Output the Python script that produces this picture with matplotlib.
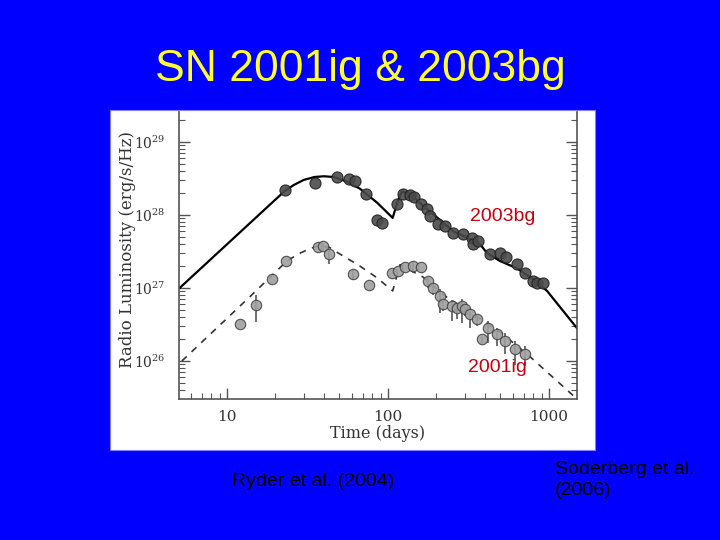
import numpy as np
import matplotlib
matplotlib.use("Agg")
import matplotlib.pyplot as plt
from matplotlib.patches import Rectangle
from matplotlib.ticker import LogLocator, FixedLocator, FuncFormatter, NullFormatter

plt.rcParams['mathtext.fontset'] = 'dejavuserif'

# SN 2003bg: days, log10 luminosity (erg/s/Hz)
bg_days = [22.9, 35.2, 48.2, 57.3, 62.4, 73.0, 85.5, 91.8, 113.7, 124, 137, 145,
           160, 175, 182, 205, 226, 253, 292, 332, 337, 362, 430, 496, 541,
           632, 710, 796, 842, 918]
bg_logL = [28.34, 28.44, 28.52, 28.49, 28.47, 28.29, 27.93, 27.89, 28.15, 28.29, 28.27, 28.25,
           28.15, 28.08, 27.99, 27.88, 27.85, 27.75, 27.74, 27.68, 27.60, 27.64, 27.47, 27.48, 27.42,
           27.33, 27.21, 27.10, 27.07, 27.07]

# SN 2001ig: days, log10 luminosity, error bars (dex, down / up)
ig_days = [12.0, 15.1, 19.0, 23.2, 36.7, 39.5, 43.0, 60.7, 76.2, 106, 115, 128, 143,
           160, 177, 190, 210, 220, 250, 269, 288, 301, 323, 357, 384, 418, 475,
           533, 615, 710]
ig_logL = [26.51, 26.77, 27.12, 27.37, 27.56, 27.58, 27.47, 27.19, 27.04, 27.21, 27.23, 27.29, 27.30,
           27.29, 27.10, 27.00, 26.89, 26.78, 26.75, 26.73, 26.75, 26.71, 26.64, 26.58, 26.30, 26.45, 26.37,
           26.27, 26.16, 26.10]
ig_err_lo = [0, 0.23, 0, 0, 0, 0, 0.14, 0.08, 0, 0, 0, 0, 0.1,
             0, 0.1, 0.1, 0.23, 0.1, 0.2, 0.15, 0.23, 0.1, 0.19, 0.1, 0.05, 0.2, 0.16,
             0.18, 0.21, 0.17]
ig_err_hi = [0, 0.14, 0, 0, 0, 0, 0.05, 0.05, 0, 0, 0, 0, 0.05,
             0, 0.05, 0.05, 0.1, 0.05, 0.08, 0.05, 0.1, 0.05, 0.08, 0.05, 0.03, 0.1, 0.08,
             0.11, 0.11, 0.11]

# model curves
bg_model_days = [5.03, 22.9, 26, 30, 35, 40, 46, 55, 67.0, 85.5, 107, 115, 122, 137,
                 158, 182, 253, 323, 373, 412, 496, 632, 796, 973, 1493]
bg_model_logL = [26.99, 28.33, 28.41, 28.48, 28.52, 28.53, 28.52, 28.46, 28.36, 28.17, 27.96, 28.19,
                 28.32, 28.29, 28.16, 28.05, 27.78, 27.67, 27.60, 27.48, 27.37, 27.27, 27.12, 26.96, 26.45]
ig_model_days = [5.25, 14.5, 23.6, 28, 32.8, 37.8, 43, 48.2, 67.0, 85.5, 107, 119, 165, 226, 323,
                 496, 762, 1493]
ig_model_logL = [26.00, 26.92, 27.37, 27.47, 27.54, 27.58, 27.56, 27.49, 27.30, 27.14, 26.96, 27.32,
                 27.15, 26.89, 26.67, 26.40, 26.06, 25.48]

fig = plt.figure(figsize=(7.2, 5.4), dpi=100, facecolor='#0000ff')
W, H = 720.0, 540.0
fig.patches.append(Rectangle((110 / W, 1 - 450 / H), 485 / W, 340 / H, transform=fig.transFigure,
                             facecolor='white', edgecolor='#8080ff', lw=0.8, zorder=-10))

ax = fig.add_axes([179 / W, 1 - 399 / H, (577 - 179) / W, (399 - 112) / H])
ax.set_zorder(5)
ax.set_facecolor('white')
ax.set_xscale('log')
ax.set_yscale('log')
ax.set_xlim(5.04, 1493)
ax.set_ylim(10 ** 25.48, 10 ** 29.41)

ax.plot(bg_model_days, 10 ** np.array(bg_model_logL), color='black', lw=1.6, zorder=2)
ax.plot(ig_model_days, 10 ** np.array(ig_model_logL), color='#333333', lw=1.2,
        dashes=(4, 4), zorder=2)

igL = 10 ** np.array(ig_logL)
lo = igL - 10 ** (np.array(ig_logL) - np.array(ig_err_lo))
hi = 10 ** (np.array(ig_logL) + np.array(ig_err_hi)) - igL
ax.errorbar(ig_days, igL, yerr=[lo, hi], fmt='none', ecolor='#555555', elinewidth=1.2, zorder=3)
ax.plot(ig_days, igL, 'o', ms=7.5, mfc='#a0a0a0', mec='#444444', mew=0.8, alpha=0.9, zorder=4)
ax.plot(bg_days, 10 ** np.array(bg_logL), 'o', ms=8, mfc='#4a4a4a', mec='#222222', mew=0.8,
        alpha=0.9, zorder=4)

# axes styling
for s in ['left', 'right', 'bottom']:
    ax.spines[s].set_color('#555555')
    ax.spines[s].set_linewidth(1.2)
ax.spines['top'].set_visible(False)

ax.xaxis.set_major_locator(FixedLocator([10, 100, 1000]))
ax.xaxis.set_minor_locator(LogLocator(base=10, subs=np.arange(2, 10)))
ax.xaxis.set_minor_formatter(NullFormatter())
ax.xaxis.set_major_formatter(FuncFormatter(lambda v, p: '%d' % v))
ax.yaxis.set_major_locator(FixedLocator([1e26, 1e27, 1e28, 1e29]))
ax.yaxis.set_minor_locator(LogLocator(base=10, subs=np.arange(2, 10)))
ax.yaxis.set_minor_formatter(NullFormatter())
ax.yaxis.set_major_formatter(FuncFormatter(lambda v, p: r'$10^{%d}$' % round(np.log10(v))))

ax.tick_params(which='both', direction='in', color='#555555', right=True, top=False)
ax.tick_params(which='major', length=8, width=1.0)
ax.tick_params(which='minor', length=4, width=0.8)
ax.tick_params(axis='x', labelsize=11, labelcolor='#333333', pad=8)
ax.tick_params(axis='y', labelsize=10, labelcolor='#333333', pad=10)
for t in ax.get_xticklabels():
    t.set_family('DejaVu Serif')

fig.text(128 / W, 1 - 249 / H, 'Radio Luminosity (erg/s/Hz)', rotation=90, ha='center', va='center',
         family='DejaVu Serif', fontsize=12, color='#333333')
fig.text(378 / W, 1 - 434 / H, 'Time (days)', ha='center', va='center',
         family='DejaVu Serif', fontsize=11.5, color='#333333')

ax.text(519, 10 ** (28 - (216 - 214) / 73), '2003bg', color='#c00010', fontsize=14,
        family='Liberation Sans', ha='center', va='center', zorder=5)
ax.text(477, 10 ** (28 - (366 - 214) / 73), '2001ig', color='#c00010', fontsize=14,
        family='Liberation Sans', ha='center', va='center', zorder=5)

fig.text(360 / W, 1 - 70 / H, 'SN 2001ig & 2003bg', color='#ffff33', fontsize=32,
         family='Liberation Sans', ha='center', va='center')
fig.text(313 / W, 1 - 481 / H, 'Ryder et al. (2004)', color='black', fontsize=14,
         family='Liberation Sans', ha='center', va='center')
fig.text(555 / W, 1 - 480 / H, 'Soderberg et al.\n(2006)', color='black', fontsize=14,
         family='Liberation Sans', ha='left', va='center', linespacing=1.25)

fig.savefig('out.png', dpi=100, facecolor=fig.get_facecolor())
